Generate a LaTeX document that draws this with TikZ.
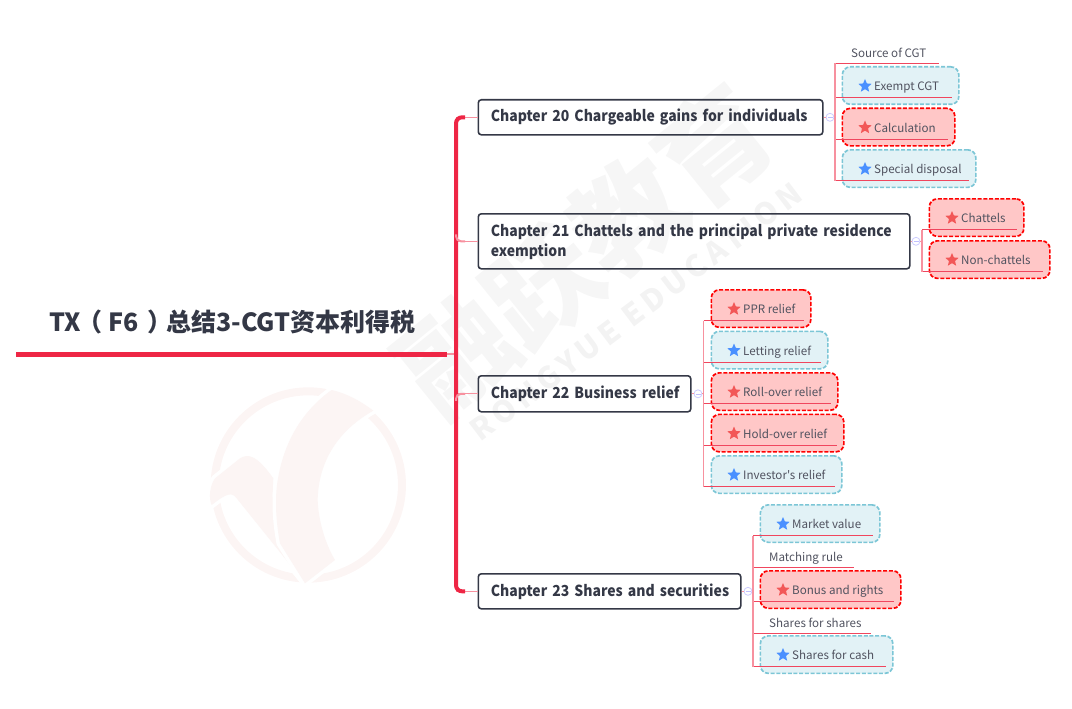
\documentclass[tikz,border=0pt]{standalone}
\usepackage{fontspec}
\setmainfont{Noto Sans CJK SC}
\newfontfamily\cjk{Noto Sans CJK SC}
\newfontfamily\chapfont[FakeStretch=0.92]{Noto Sans CJK SC}
\newfontfamily\wmfont[LetterSpace=16]{Noto Sans CJK SC}
\usetikzlibrary{shapes.geometric}
\definecolor{inkdark}{HTML}{343846}
\definecolor{inksoft}{HTML}{50525F}
\definecolor{crimson}{HTML}{EE2645}
\definecolor{twigline}{HTML}{F0465E}
\definecolor{stemline}{HTML}{F7919F}
\definecolor{markgray}{HTML}{F6F6F6}
\definecolor{markline}{HTML}{F3F3F3}
\definecolor{logotint}{HTML}{FCF5F4}
\definecolor{hotstar}{HTML}{F25757}
\definecolor{coolstar}{HTML}{4A90FF}
\definecolor{coolline}{HTML}{7CC6D6}
\definecolor{coolfill}{HTML}{E2F2F6}
\tikzset{
    chapter/.style={draw=inkdark,line width=1.6pt,rounded corners=3pt,anchor=north west,align=left,
        inner xsep=12.5pt,inner ysep=0pt,font=\chapfont\fontsize{15.2}{20}\selectfont\bfseries,text=inkdark},
    hot box/.style={draw=red,fill=red!22,line width=1.7pt,dash pattern=on 4pt off 1.7pt,
        rounded corners=8pt,anchor=north west,minimum height=37.5pt},
    cool box/.style={draw=coolline,fill=coolfill,line width=1.7pt,dash pattern=on 4pt off 1.7pt,
        rounded corners=8pt,anchor=north west,minimum height=37.5pt},
    hot star/.style={star,star points=5,star point ratio=2.2,fill=hotstar,inner sep=0pt,minimum size=14pt},
    cool star/.style={star,star points=5,star point ratio=2.2,fill=coolstar,inner sep=0pt,minimum size=14pt},
    leaf/.style={anchor=base west,inner sep=0pt,font=\cjk\fontsize{11.6}{14}\selectfont,text=inksoft},
    twig/.style={draw=twigline,line width=1pt},
    stem/.style={draw=stemline,line width=1.2pt},
    fold/.style={circle,draw=blue!20,fill=white,line width=.8pt,minimum size=8pt,inner sep=0pt,
        path picture={\draw[blue!25,line width=.6pt] ([xshift=-2.5pt]path picture bounding box.center) -- ++(5pt,0);}},
    trunk/.style={draw=crimson,line width=4pt},
}
\begin{document}
\begin{tikzpicture}[x=1pt,y=-1pt]
    \useasboundingbox (0,0) rectangle (1072,709);
    %% watermark
    \node[text=markgray,rotate=39,font=\cjk\fontsize{110}{110}\selectfont\bfseries,inner sep=0pt] (wmcn) at (585,250) {融跃教育};
    \node[text=markline,rotate=37,font=\wmfont\fontsize{30}{30}\selectfont\bfseries,inner sep=0pt] (wmen) at (636,312) {RONGYUE EDUCATION};
    \begin{scope}[shift={(190,370)},x=.3333pt,y=-.3333pt]
        \draw[logotint,line width=8pt] (355,345) circle (281);
        \fill[logotint,preaction={draw=white,line width=7pt}] (345,640) -- (140,385)
            .. controls (125,365) and (110,370) .. (65,405)
            .. controls (55,385) and (60,345) .. (75,325) -- (150,265)
            .. controls (175,250) and (200,255) .. (250,325)
            .. controls (245,400) and (250,450) .. (270,510) -- cycle;
        \fill[logotint,preaction={draw=white,line width=7pt}] (425,60)
            .. controls (470,70) and (515,95) .. (550,122)
            .. controls (430,190) and (385,290) .. (383,390)
            .. controls (385,450) and (405,520) .. (435,570)
            -- (345,640) -- (270,520)
            .. controls (255,440) and (255,370) .. (265,320)
            .. controls (285,210) and (340,120) .. (425,60) -- cycle;
    \end{scope}
    %% central topic
    \node[anchor=south west,inner sep=0pt,text=inkdark,font=\cjk\fontsize{25}{25}\selectfont\bfseries] (topic) at (49,334) {TX\kern-4pt（\kern6pt F6\kern9pt）\kern-6pt 总结3-CGT资本利得税};
    \coordinate (rootL) at (16,354);
    \coordinate (rootR) at (447,354);
    \coordinate (tk) at (456,354);
    \coordinate (tkr) at (465,354);
    \draw[crimson,line width=5pt] (rootL) -- (rootR);
    %% chapters
    \node[chapter,text width=319.5pt,minimum height=35pt] (ch20) at (477.5,99) {\mbox{Chapter 20 Chargeable gains for individuals}};
    \node[chapter,text width=406.5pt,minimum height=55pt] (ch21) at (477.5,213) {\mbox{Chapter 21 Chattels and the principal private residence}\\exemption};
    \node[chapter,text width=187.5pt,minimum height=36pt] (ch22) at (477.5,375) {\mbox{Chapter 22 Business relief}};
    \node[chapter,text width=237.5pt,minimum height=35pt] (ch23) at (477.5,573) {\mbox{Chapter 23 Shares and securities}};
    %% trunk and branches
    \draw[stem] (rootR) -- (tk);
    \foreach \c in {ch20,ch21,ch22,ch23} \draw[stem] (tk |- \c.west) -- (\c.west);
    \draw[trunk,rounded corners=6pt] (tkr |- ch20.west) -- (tk |- ch20.west) -- (tk |- ch23.west) -- (tkr |- ch23.west);
    \draw[stem,line width=2pt,rounded corners=5pt] ([yshift=7pt]tk |- ch21.west) -- (tk |- ch21.west) -- (tkr |- ch21.west);
    \draw[stem,line width=2pt,rounded corners=5pt] ([yshift=-7pt]tk |- ch22.west) -- (tk |- ch22.west) -- (tkr |- ch22.west);
    %% fold marks and spines
    \foreach \c/\fx/\sx in {ch20/830/835,ch21/916/922,ch22/698/703.5,ch23/748/753} {
        \coordinate (sp\c) at (\sx,0);
        \node[fold] (fd\c) at (\fx,0 |- \c.east) {};
        \draw[stem] (\c.east) -- (fd\c);
        \draw[stem] (fd\c) -- (sp\c |- \c.east);
    }
    %% plain labels
    \foreach \nm/\sp/\tx/\ty/\ex/\ey/\lbl in {Src/spch20/851/58/939/63.5/Source of CGT,
        Mat/spch23/769/561/854/567/Matching rule,
        Sfs/spch23/769/627/871/633/Shares for shares} {
        \node[leaf] (t\nm) at (\tx,\ty) {\lbl};
        \coordinate (e\nm) at (\ex,\ey);
        \draw[twig] (\sp |- e\nm) -- (e\nm);
    }
    %% boxed labels
    \foreach \nm/\kind/\sp/\xa/\w/\ya/\lbl in {Exm/cool/spch20/841.5/116.5/66/Exempt CGT,
        Cal/hot/spch20/841.5/112.5/107.5/Calculation,
        Spc/cool/spch20/841.5/133.5/149/Special disposal,
        Cht/hot/spch21/928.5/94.5/198/Chattels,
        Non/hot/spch21/928.5/120.5/240/Non-chattels,
        Ppr/hot/spch22/710.5/99.5/289/PPR relief,
        Let/cool/spch22/710.5/116.5/330.5/Letting relief,
        Rol/hot/spch22/710.5/126.5/372/Roll-over relief,
        Hol/hot/spch22/710.5/132.5/413.5/Hold-over relief,
        Inv/cool/spch22/710.5/130.5/455/Investor's relief,
        Mkt/cool/spch23/759.5/119.5/504/Market value,
        Bon/hot/spch23/759.5/140.5/570/Bonus and rights,
        Cas/cool/spch23/759.5/132.5/635/Shares for cash} {
        \node[\kind\space box,minimum width=\w pt] (b\nm) at (\xa,\ya) {};
        \node[\kind\space star] (s\nm) at ([xshift=23.5pt,yshift=-20pt]b\nm.north west) {};
        \node[leaf] (t\nm) at ([xshift=32.5pt,yshift=-24.5pt]b\nm.north west) {\lbl};
        \coordinate (e\nm) at ([xshift=-8pt,yshift=7.5pt]b\nm.south east);
        \draw[twig] (\sp |- e\nm) -- (e\nm);
    }
    \draw[stem] (spch20 |- eSrc) -- (spch20 |- eSpc);
    \draw[stem] (spch21 |- eCht) -- (spch21 |- eNon);
    \draw[stem] (spch22 |- ePpr) -- (spch22 |- eInv);
    \draw[stem] (spch23 |- eMkt) -- (spch23 |- eCas);
\end{tikzpicture}
\end{document}
